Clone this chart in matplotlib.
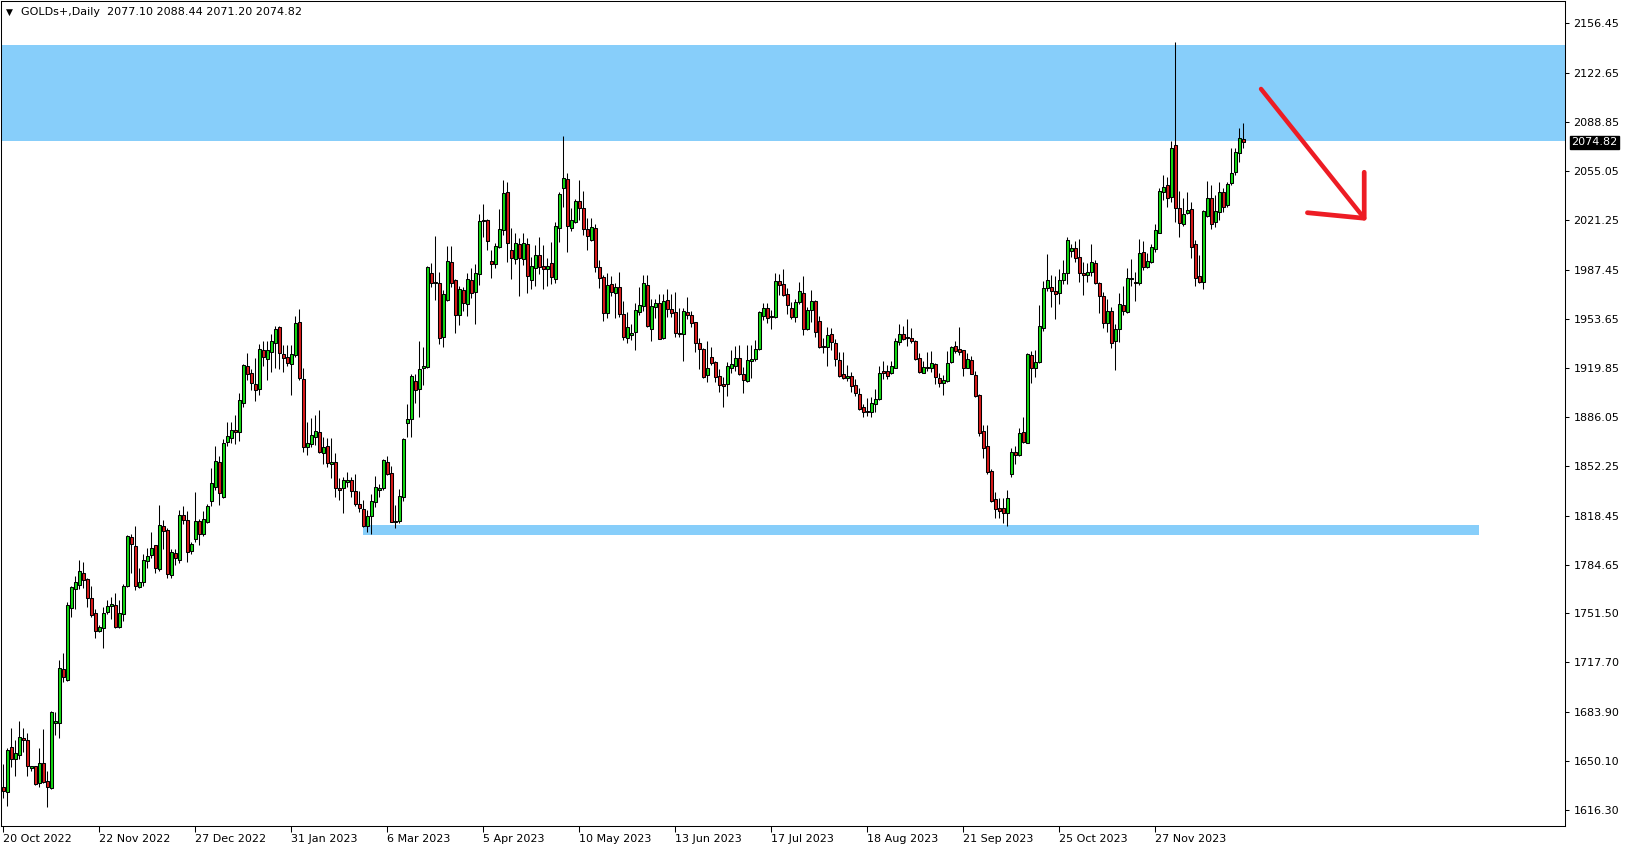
import matplotlib
matplotlib.use("Agg")
import matplotlib.pyplot as plt
import matplotlib.patches as patches
import numpy as np

# daily bars (open / high / low / close)
opens = [
    1631.9, 1628.4, 1659.3, 1651.5, 1654.4, 1665.7, 1664.3, 1644.9, 1646.6, 1634.7,
    1648.5, 1636.2, 1631.4, 1676.0, 1675.9, 1713.0, 1705.9, 1755.1, 1767.9, 1770.5,
    1779.0, 1775.0, 1761.8, 1751.6, 1739.5, 1741.2, 1752.1, 1756.1, 1757.0, 1741.7,
    1750.9, 1769.8, 1803.9, 1797.7, 1769.1, 1772.6, 1787.1, 1791.1, 1798.2, 1781.6,
    1811.2, 1808.6, 1777.6, 1792.7, 1788.0, 1818.8, 1815.2, 1794.2, 1802.2, 1814.5,
    1805.8, 1814.3, 1828.2, 1837.9, 1855.4, 1831.1, 1868.9, 1871.5, 1877.6, 1875.8,
    1895.6, 1920.9, 1916.4, 1908.9, 1905.1, 1932.2, 1926.3, 1931.1, 1937.2, 1947.8,
    1929.2, 1927.6, 1922.8, 1928.5, 1951.2, 1912.1, 1865.8, 1867.9, 1872.7, 1875.7,
    1861.2, 1866.3, 1853.7, 1855.1, 1837.2, 1837.2, 1841.8, 1842.7, 1835.4, 1826.2,
    1822.8, 1811.6, 1818.2, 1827.6, 1836.1, 1837.2, 1855.1, 1847.5, 1814.3, 1815.0,
    1831.5, 1881.8, 1884.6, 1910.9, 1905.2, 1920.1, 1920.8, 1984.9, 1978.5, 1978.5,
    1941.4, 1966.3, 1992.4, 1980.3, 1956.0, 1973.4, 1963.6, 1980.1, 1972.3, 1984.2,
    2020.8, 2021.5, 1993.1, 1991.5, 2003.2, 2014.7, 2040.7, 2000.9, 1995.0, 2004.8,
    1995.0, 2004.8, 1980.5, 1988.8, 1997.5, 1989.9, 1988.1, 1991.8, 1981.2, 2016.3,
    2043.3, 2049.4, 2016.3, 2020.4, 2034.6, 2029.5, 2015.3, 2007.8, 2016.3, 1989.5,
    1982.4, 1957.9, 1977.6, 1971.6, 1975.3, 1957.0, 1940.7, 1942.5, 1944.8, 1958.6,
    1962.7, 1976.6, 1946.9, 1961.5, 1964.5, 1940.3, 1966.4, 1960.6, 1958.3, 1943.7,
    1943.0, 1958.3, 1956.1, 1951.5, 1936.8, 1932.7, 1914.9, 1927.2, 1923.8, 1914.2,
    1908.7, 1908.7, 1919.7, 1921.5, 1926.5, 1915.8, 1911.0, 1924.9, 1925.8, 1932.7,
    1955.4, 1960.9, 1955.4, 1954.7, 1979.4, 1977.6, 1970.7, 1960.9, 1955.1, 1965.2,
    1971.4, 1946.4, 1959.5, 1965.7, 1952.2, 1935.0, 1934.1, 1943.0, 1936.8, 1925.2,
    1915.5, 1912.8, 1914.4, 1908.0, 1902.0, 1892.9, 1890.4, 1889.4, 1895.2, 1898.4,
    1917.8, 1917.8, 1916.7, 1920.1, 1938.0, 1943.2, 1940.9, 1940.2, 1938.4, 1926.5,
    1916.6, 1920.3, 1920.1, 1922.6, 1913.0, 1909.3, 1910.9, 1924.2, 1935.0, 1932.9,
    1932.2, 1920.1, 1925.3, 1915.0, 1901.3, 1876.6, 1866.3, 1849.3, 1829.9, 1823.7,
    1823.7, 1820.5, 1847.0, 1861.9, 1860.1, 1875.9, 1868.6, 1928.8, 1920.1, 1924.0,
    1947.6, 1974.8, 1975.5, 1972.7, 1971.6, 1980.3, 1984.9, 2000.4, 2002.0, 1995.8,
    1984.9, 1983.7, 1985.6, 1991.7, 1978.0, 1969.3, 1950.5, 1959.0, 1938.6, 1946.4,
    1963.1, 1958.5, 1981.4, 1978.7, 1978.0, 1999.3, 1989.5, 1992.9, 2001.8, 2012.8,
    2040.5, 2045.5, 2037.1, 2073.0, 2029.5, 2018.5, 2026.1, 2029.1, 2005.0, 1983.0,
    1979.2, 2024.5, 2036.4, 2019.9, 2027.2, 2040.5, 2031.8, 2046.7, 2054.2, 2067.8, 2077.10,
]
highs = [
    1648.0, 1658.6, 1672.8, 1664.5, 1677.1, 1672.8, 1669.3, 1646.6, 1646.6, 1659.1,
    1671.6, 1643.3, 1684.6, 1683.9, 1719.0, 1724.4, 1759.2, 1770.0, 1776.9, 1788.2,
    1786.6, 1775.7, 1769.8, 1754.4, 1743.3, 1755.6, 1760.3, 1762.7, 1765.1, 1760.3,
    1771.5, 1805.3, 1805.8, 1811.4, 1782.8, 1792.0, 1796.3, 1807.2, 1798.2, 1825.9,
    1815.4, 1810.0, 1795.8, 1795.8, 1822.3, 1825.1, 1821.8, 1800.5, 1834.4, 1815.9,
    1821.6, 1826.6, 1850.9, 1866.3, 1859.7, 1870.8, 1882.9, 1882.9, 1887.6, 1902.7,
    1922.8, 1930.2, 1919.5, 1926.8, 1936.3, 1938.4, 1938.4, 1943.2, 1948.9, 1948.9,
    1935.6, 1935.6, 1935.6, 1955.6, 1960.4, 1919.6, 1882.8, 1885.7, 1887.3, 1891.0,
    1872.7, 1871.5, 1871.5, 1861.2, 1844.1, 1845.2, 1848.2, 1845.2, 1847.0, 1835.4,
    1829.2, 1822.3, 1833.1, 1845.7, 1840.2, 1857.6, 1859.6, 1852.5, 1825.7, 1836.7,
    1872.0, 1894.9, 1915.5, 1915.5, 1938.4, 1934.5, 1989.9, 1991.7, 2010.5, 1986.0,
    1973.4, 2003.7, 2003.7, 1981.2, 1976.2, 1975.7, 1984.9, 1988.3, 1991.3, 2025.6,
    2032.5, 2022.0, 2000.9, 2006.0, 2029.1, 2049.0, 2047.6, 2016.3, 2012.4, 2008.9,
    2012.4, 2008.9, 1996.3, 2004.3, 2009.6, 2004.3, 1995.2, 2006.4, 2020.4, 2041.0,
    2079.2, 2054.0, 2030.0, 2035.7, 2049.0, 2041.4, 2023.1, 2022.7, 2018.5, 1994.0,
    1983.7, 1984.9, 1983.1, 1978.0, 1985.6, 1966.1, 1958.1, 1950.3, 1964.5, 1975.7,
    1983.7, 1983.7, 1967.0, 1967.0, 1970.5, 1970.7, 1974.1, 1970.5, 1971.9, 1960.9,
    1960.9, 1968.4, 1959.3, 1951.7, 1940.3, 1933.4, 1938.4, 1934.1, 1924.7, 1919.0,
    1913.9, 1924.0, 1932.3, 1935.0, 1935.5, 1920.3, 1935.7, 1935.7, 1939.1, 1959.0,
    1964.3, 1964.3, 1959.7, 1985.4, 1984.4, 1987.9, 1975.1, 1965.4, 1967.0, 1979.2,
    1983.3, 1962.0, 1973.5, 1966.6, 1955.6, 1940.3, 1947.8, 1947.1, 1939.6, 1930.6,
    1930.6, 1921.9, 1917.4, 1912.3, 1905.9, 1895.2, 1899.1, 1900.2, 1905.2, 1921.3,
    1924.7, 1921.9, 1924.7, 1940.7, 1950.1, 1948.7, 1953.5, 1947.6, 1939.1, 1930.4,
    1924.7, 1930.8, 1931.5, 1923.5, 1916.2, 1915.0, 1931.8, 1935.0, 1938.4, 1948.0,
    1932.2, 1929.9, 1928.1, 1917.8, 1901.8, 1880.7, 1880.7, 1850.3, 1834.9, 1830.8,
    1830.3, 1836.1, 1865.1, 1866.3, 1878.9, 1886.4, 1929.9, 1931.5, 1932.2, 1963.1,
    1979.6, 1998.1, 1983.7, 1983.0, 1987.8, 1994.0, 2009.6, 2005.0, 2007.3, 2008.5,
    1992.4, 1991.7, 2005.0, 1994.0, 1978.9, 1972.3, 1967.0, 1962.0, 1950.1, 1971.6,
    1976.2, 1988.8, 1994.5, 1986.0, 2008.5, 2007.3, 1999.1, 2004.8, 2018.8, 2043.5,
    2052.4, 2051.3, 2075.8, 2143.5, 2041.4, 2036.4, 2040.5, 2034.1, 2007.8, 1997.5,
    2028.4, 2048.3, 2045.5, 2038.7, 2047.4, 2043.7, 2047.8, 2071.2, 2070.7, 2084.9, 2088.44,
]
lows = [
    1624.3, 1618.9, 1645.6, 1639.7, 1651.5, 1656.3, 1639.7, 1643.3, 1633.3, 1632.2,
    1635.0, 1618.4, 1630.9, 1668.1, 1665.7, 1704.0, 1705.2, 1748.5, 1754.4, 1768.1,
    1768.6, 1755.6, 1748.5, 1734.3, 1738.3, 1727.7, 1750.9, 1747.3, 1741.0, 1741.4,
    1746.1, 1769.1, 1779.3, 1767.4, 1768.6, 1769.8, 1782.8, 1789.4, 1778.8, 1780.4,
    1795.8, 1775.7, 1775.7, 1784.5, 1785.9, 1812.8, 1786.4, 1792.3, 1800.5, 1798.2,
    1804.8, 1813.5, 1824.9, 1836.0, 1826.1, 1830.8, 1866.1, 1868.4, 1867.9, 1869.6,
    1892.8, 1911.7, 1904.6, 1897.5, 1901.5, 1921.2, 1911.6, 1917.1, 1920.1, 1919.2,
    1917.3, 1921.4, 1901.3, 1927.6, 1911.6, 1862.4, 1860.1, 1865.8, 1867.0, 1861.2,
    1853.7, 1852.1, 1844.1, 1831.5, 1829.2, 1820.0, 1838.3, 1831.0, 1825.3, 1821.2,
    1810.4, 1807.4, 1805.6, 1824.1, 1831.5, 1836.1, 1846.4, 1813.8, 1810.2, 1813.2,
    1828.7, 1872.2, 1872.2, 1896.0, 1886.4, 1908.2, 1919.8, 1975.2, 1966.5, 1936.3,
    1934.5, 1966.1, 1975.7, 1944.1, 1949.4, 1959.2, 1955.8, 1967.7, 1950.3, 1976.9,
    2009.6, 2000.9, 1981.9, 1988.8, 2002.1, 2011.2, 1992.7, 1981.0, 1991.3, 1969.5,
    1990.6, 1971.6, 1974.4, 1976.2, 1984.4, 1974.4, 1976.2, 1977.3, 1978.5, 2006.6,
    2030.7, 1999.8, 2014.2, 2019.2, 2021.5, 2011.2, 2000.9, 2007.1, 1986.0, 1975.0,
    1952.4, 1954.4, 1969.3, 1954.4, 1955.1, 1939.1, 1937.3, 1939.1, 1932.2, 1956.3,
    1959.0, 1947.8, 1938.6, 1954.4, 1939.6, 1939.6, 1955.1, 1954.7, 1941.0, 1941.0,
    1924.9, 1953.8, 1948.3, 1930.6, 1919.4, 1912.8, 1910.5, 1921.9, 1910.5, 1903.6,
    1893.3, 1900.9, 1916.7, 1917.8, 1914.9, 1902.9, 1910.5, 1913.2, 1924.9, 1932.3,
    1952.9, 1951.0, 1946.4, 1954.0, 1970.0, 1969.3, 1957.2, 1953.5, 1951.7, 1963.6,
    1942.6, 1946.0, 1951.7, 1941.4, 1933.4, 1930.0, 1921.5, 1932.3, 1921.3, 1913.9,
    1912.3, 1911.2, 1903.6, 1900.9, 1891.0, 1885.9, 1887.1, 1886.0, 1889.9, 1897.9,
    1912.3, 1912.1, 1915.8, 1919.7, 1935.7, 1939.1, 1935.2, 1937.3, 1925.3, 1916.2,
    1916.2, 1918.0, 1917.3, 1908.6, 1906.6, 1901.3, 1910.2, 1923.1, 1930.4, 1929.0,
    1914.6, 1919.6, 1915.5, 1899.7, 1873.1, 1858.3, 1847.0, 1827.8, 1816.6, 1816.6,
    1813.6, 1811.6, 1845.2, 1853.7, 1859.4, 1868.6, 1868.6, 1909.3, 1913.4, 1923.5,
    1945.3, 1973.0, 1962.0, 1953.5, 1963.6, 1977.5, 1977.3, 1996.3, 1992.4, 1979.2,
    1970.0, 1979.2, 1983.3, 1977.5, 1957.4, 1947.6, 1944.8, 1933.4, 1918.5, 1937.5,
    1956.3, 1957.9, 1976.2, 1966.1, 1976.9, 1987.2, 1988.3, 1991.7, 1999.8, 2012.3,
    2035.2, 2030.7, 2034.1, 2020.4, 2010.1, 2017.4, 2025.6, 1995.2, 1976.4, 1978.0,
    1973.9, 2023.8, 2015.3, 2016.5, 2021.5, 2027.2, 2030.7, 2045.5, 2052.4, 2061.6, 2071.20,
]
closes = [
    1629.5, 1657.4, 1651.5, 1655.6, 1666.2, 1664.5, 1646.8, 1646.6, 1634.3, 1648.5,
    1635.7, 1631.9, 1683.9, 1677.1, 1713.5, 1707.8, 1757.0, 1769.6, 1772.9, 1780.2,
    1774.5, 1761.8, 1749.9, 1739.1, 1741.9, 1751.6, 1756.3, 1757.7, 1741.9, 1751.6,
    1770.0, 1804.6, 1798.7, 1769.8, 1772.6, 1787.8, 1790.4, 1796.3, 1782.8, 1812.1,
    1808.1, 1778.1, 1793.2, 1789.2, 1819.0, 1815.2, 1793.7, 1798.7, 1814.5, 1805.8,
    1815.9, 1824.9, 1840.8, 1855.7, 1833.7, 1868.2, 1872.9, 1877.6, 1876.2, 1897.8,
    1921.9, 1916.0, 1909.3, 1904.6, 1932.8, 1927.6, 1932.0, 1938.4, 1946.4, 1929.9,
    1926.9, 1923.5, 1929.2, 1950.5, 1913.2, 1865.8, 1868.1, 1873.6, 1876.6, 1862.4,
    1865.6, 1854.4, 1855.3, 1837.2, 1836.1, 1842.7, 1842.9, 1835.6, 1826.2, 1823.5,
    1811.6, 1818.0, 1828.5, 1837.9, 1837.2, 1856.7, 1847.3, 1814.3, 1814.8, 1831.9,
    1870.9, 1884.6, 1914.3, 1904.7, 1918.9, 1921.2, 1989.4, 1978.0, 1978.5, 1940.2,
    1970.5, 1993.1, 1978.5, 1956.5, 1973.9, 1964.7, 1980.8, 1971.6, 1984.9, 2020.8,
    2020.8, 2007.3, 1991.5, 2003.7, 2015.3, 2040.1, 2006.0, 1995.6, 2005.5, 1995.2,
    2005.5, 1983.3, 1989.9, 1997.5, 1989.5, 1988.1, 1989.9, 1982.6, 2017.4, 2039.4,
    2050.1, 2017.6, 2021.5, 2034.6, 2030.0, 2015.1, 2010.8, 2016.5, 1989.5, 1981.9,
    1957.9, 1977.1, 1972.1, 1975.3, 1957.2, 1941.4, 1947.8, 1943.7, 1959.5, 1963.1,
    1978.0, 1948.7, 1962.2, 1964.5, 1940.0, 1965.9, 1960.6, 1957.9, 1944.2, 1943.0,
    1959.0, 1956.1, 1951.0, 1936.8, 1932.7, 1913.9, 1919.7, 1923.6, 1913.9, 1908.0,
    1907.8, 1921.0, 1922.4, 1926.5, 1915.8, 1911.4, 1925.2, 1926.1, 1932.9, 1958.3,
    1960.9, 1954.5, 1954.7, 1979.6, 1977.1, 1969.8, 1962.9, 1955.1, 1965.2, 1972.8,
    1946.4, 1959.5, 1965.7, 1944.8, 1934.5, 1934.5, 1942.3, 1937.5, 1925.8, 1914.6,
    1912.8, 1914.6, 1907.8, 1902.5, 1892.0, 1889.9, 1889.7, 1895.6, 1898.4, 1916.2,
    1916.7, 1914.6, 1921.3, 1938.4, 1943.0, 1940.0, 1940.2, 1938.6, 1926.3, 1917.3,
    1920.3, 1919.6, 1923.1, 1913.9, 1909.3, 1911.6, 1923.1, 1934.3, 1931.8, 1930.6,
    1920.1, 1925.8, 1916.0, 1900.8, 1875.4, 1865.1, 1848.7, 1828.5, 1823.2, 1821.9,
    1820.5, 1830.6, 1861.9, 1860.1, 1875.0, 1869.3, 1929.2, 1920.1, 1923.7, 1948.7,
    1974.6, 1980.1, 1973.0, 1970.7, 1980.1, 1984.9, 2007.8, 2002.3, 1995.6, 1984.9,
    1983.7, 1985.6, 1992.4, 1978.0, 1969.5, 1950.5, 1959.0, 1936.8, 1946.4, 1963.8,
    1959.2, 1981.4, 1980.8, 1978.0, 1998.8, 1989.5, 1993.3, 2003.0, 2014.6, 2041.4,
    2044.4, 2036.4, 2071.2, 2029.5, 2019.2, 2025.6, 2028.4, 2003.2, 1981.9, 1979.2,
    2027.7, 2036.4, 2018.5, 2027.7, 2040.5, 2030.7, 2046.2, 2054.0, 2068.2, 2077.6, 2074.82,
]

date_labels = ["20 Oct 2022", "22 Nov 2022", "27 Dec 2022", "31 Jan 2023", "6 Mar 2023",
               "5 Apr 2023", "10 May 2023", "13 Jun 2023", "17 Jul 2023", "18 Aug 2023",
               "21 Sep 2023", "25 Oct 2023", "27 Nov 2023"]
date_bars = [0, 24, 48, 72, 96, 120, 144, 168, 192, 216, 240, 264, 288]

price_ticks = [2156.45, 2122.65, 2088.85, 2055.05, 2021.25, 1987.45, 1953.65, 1919.85,
               1886.05, 1852.25, 1818.45, 1784.65, 1751.50, 1717.70, 1683.90, 1650.10, 1616.30]

title = "GOLDs+,Daily"
last_ohlc = [2077.10, 2088.44, 2071.20, 2074.82]

# drawn zones and the hand drawn arrow
supply_zone = [2075.8, 2141.9]
demand_zone = [1805.0, 1812.0]
demand_zone_bars = [89.9, 368.9]
arrow_shaft_x = [314.4, 340.2]
arrow_shaft_y = [2111.5, 2022.7]
arrow_head_x = [326.0, 340.2, 340.2]
arrow_head_y = [2026.5, 2022.7, 2054.3]

bull_col = '#12d912'
bear_col = '#d81a1a'
zone_col = '#87CEFA'

W, H = 1629, 850
fig = plt.figure(figsize=(W / 100, H / 100), dpi=100)
fig.patch.set_facecolor('white')
ax = fig.add_axes([1 / W, 24 / H, 1564 / W, 825 / H])
ax.set_facecolor('white')

o = np.array(opens)
h = np.array(highs)
l = np.array(lows)
c = np.array(closes)
x = np.arange(len(o))

# zones behind the candles
ax.axhspan(supply_zone[0], supply_zone[1], color=zone_col, lw=0, zorder=0)
ax.add_patch(patches.Rectangle((demand_zone_bars[0], demand_zone[0]),
                               demand_zone_bars[1] - demand_zone_bars[0],
                               demand_zone[1] - demand_zone[0],
                               facecolor=zone_col, edgecolor='none', zorder=1))

ax.vlines(x, l, h, color='black', linewidth=0.75, zorder=2)
up = c >= o
ax.bar(x, np.maximum(np.abs(c - o), 0.4), bottom=np.minimum(o, c), width=0.55,
       color=np.where(up, bull_col, bear_col), edgecolor='black', linewidth=0.75, zorder=3)

ax.plot(arrow_shaft_x, arrow_shaft_y, color='#ED1C24', lw=3.2,
        solid_capstyle='round', solid_joinstyle='round', zorder=5)
ax.plot(arrow_head_x, arrow_head_y, color='#ED1C24', lw=3.4,
        solid_capstyle='round', solid_joinstyle='round', zorder=5)

ax.set_xlim(-0.625, 390.4)
ax.set_ylim(1605.3, 2171.9)

ax.yaxis.tick_right()
ax.set_yticks(price_ticks)
ax.set_yticklabels([f"{v:.2f}" for v in price_ticks])
ax.tick_params(axis='y', direction='out', length=3, width=0.75, pad=3, labelsize=8, colors='black')
ax.set_xticks(date_bars)
ax.set_xticklabels(date_labels, ha='left')
ax.tick_params(axis='x', direction='out', length=4, width=0.75, pad=2, labelsize=8, colors='black')
for s in ax.spines.values():
    s.set_linewidth(0.75)
    s.set_color('black')

ax.text(1.0042, last_ohlc[3], f"{last_ohlc[3]:.2f}", transform=ax.get_yaxis_transform(),
        va='center', ha='left', fontsize=8, color='white', clip_on=False, zorder=10,
        bbox=dict(boxstyle='square,pad=0.12', facecolor='black', edgecolor='black'))

ax.text(0.003, 0.9867, "\u25bc", transform=ax.transAxes, fontsize=6.5, va='center', ha='left')
ax.text(0.0125, 0.9867, title + "  " + " ".join(f"{v:.2f}" for v in last_ohlc),
        transform=ax.transAxes, fontsize=8, va='center', ha='left')

fig.savefig('out.png', dpi=100)
